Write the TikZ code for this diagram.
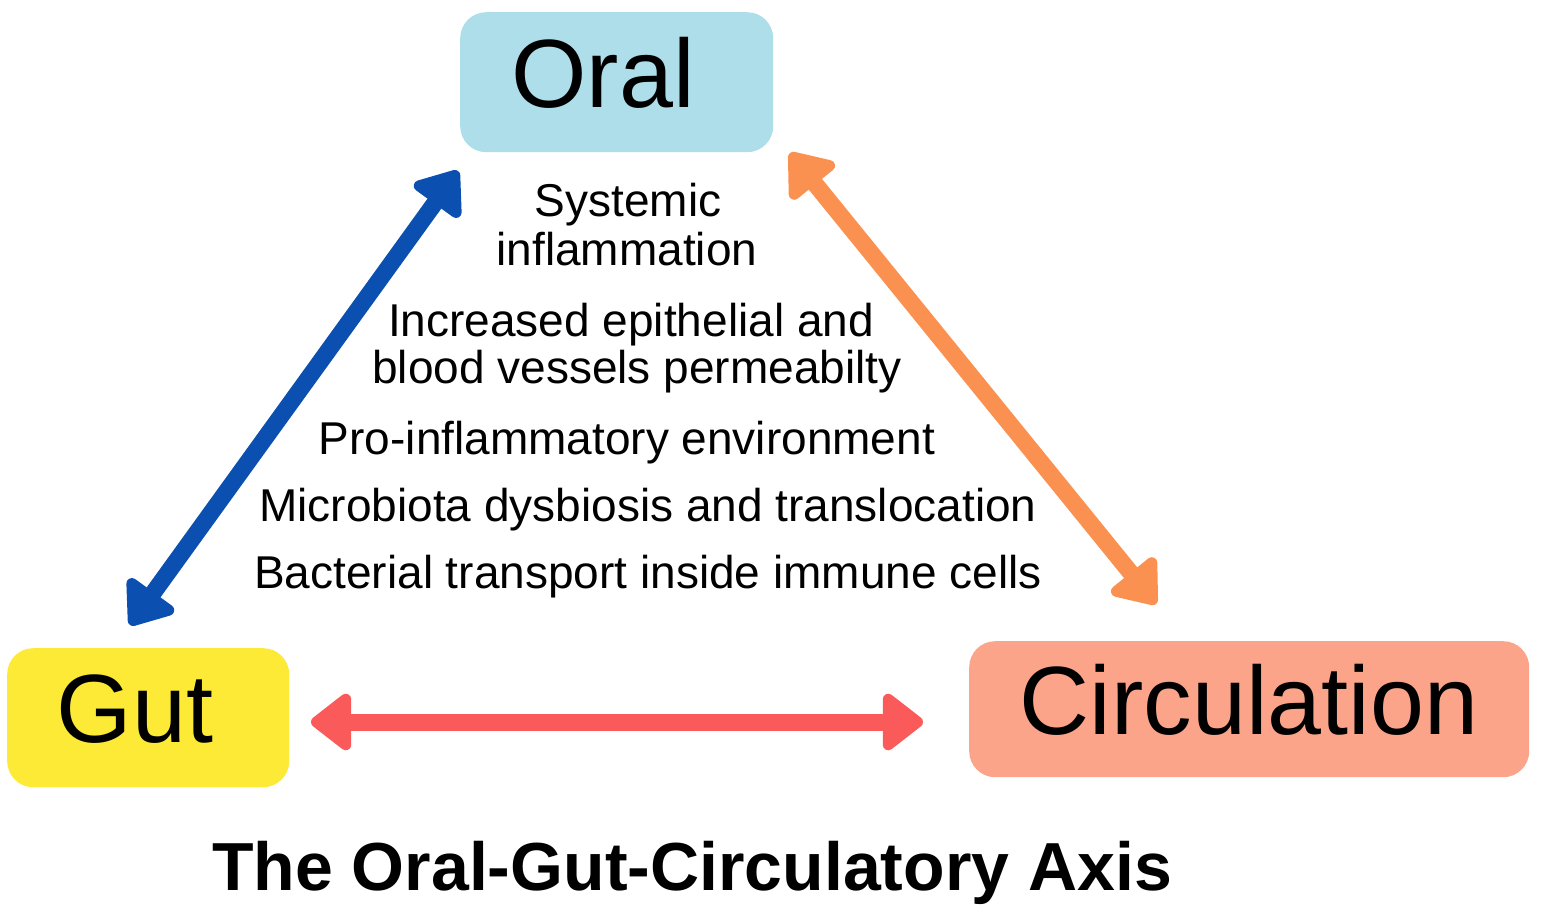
\documentclass[tikz,border=0pt]{standalone}
\usepackage{fontspec}
\setmainfont{Liberation Sans}
\usetikzlibrary{arrows.meta}
\definecolor{oralc}{HTML}{ADDEE9}
\definecolor{gutc}{HTML}{FCEA36}
\definecolor{circc}{HTML}{FBA48A}
\definecolor{bluec}{HTML}{0B4FB0}
\definecolor{orangec}{HTML}{FB9150}
\definecolor{redc}{HTML}{FA5A5A}
\tikzset{
  organ/.style={rounded corners=26pt, inner sep=0pt, anchor=north west},
  organtext/.style={font=\fontsize{97}{100}\selectfont, anchor=base, inner sep=0pt},
  body/.style={font=\fontsize{46}{48}\selectfont, anchor=base, inner sep=0pt},
  ttl/.style={font=\fontsize{68}{70}\selectfont\bfseries, anchor=base, inner sep=0pt},
  dbl/.style={line width=17pt, {Triangle[width=65pt,length=44pt,round]}-{Triangle[width=65pt,length=44pt,round]}, line join=round},
}
\begin{document}
\begin{tikzpicture}[x=1pt,y=-1pt]
\useasboundingbox (0,0) rectangle (1544,912);
% boxes
\node[organ, fill=oralc, minimum width=313pt, minimum height=140pt] (oral) at (460,12) {};
\node[organ, fill=gutc, minimum width=282pt, minimum height=139pt] (gut) at (7,648) {};
\node[organ, fill=circc, minimum width=560pt, minimum height=136pt] (circ) at (969,641) {};
\node[organtext] (oralt) at (603,108) {Oral};
\node[organtext] (gutt) at (135,742) {Gut};
\node[organtext] (circt) at (1249,734) {Circulation};
% middle texts
\node[body] (t1) at (628,217) {Systemic};
\node[body] (t2) at (627,265) {inflammation};
\node[body] (t3) at (631,336) {Increased epithelial and};
\node[body] (t4) at (637,383) {blood vessels permeabilty};
\node[body] (t5) at (627,454) {Pro-inflammatory environment};
\node[body] (t6) at (648,521) {Microbiota dysbiosis and translocation};
\node[body] (t7) at (648,588) {Bacterial transport inside immune cells};
\node[ttl] (title) at (692,890) {The Oral-Gut-Circulatory Axis};
% arrow ends
\coordinate (bA) at (130,625);
\coordinate (bB) at (458,171);
\coordinate (oA) at (790,153);
\coordinate (oB) at (1156,604);
\coordinate (rA) at (311,722);
\coordinate (rB) at (923,722);
\draw[dbl, bluec] (bA) -- (bB);
\draw[dbl, orangec] (oA) -- (oB);
\draw[dbl, redc] (rA) -- (rB);
\end{tikzpicture}
\end{document}
